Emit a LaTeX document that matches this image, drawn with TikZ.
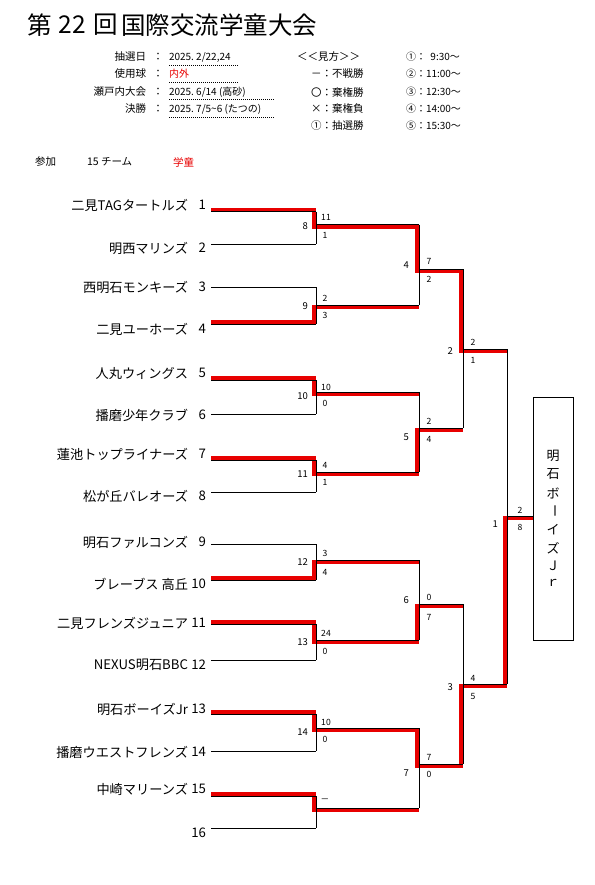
\documentclass[tikz,border=0pt]{standalone}
\usepackage{fontspec}
\setmainfont{Noto Sans CJK JP}
\definecolor{winred}{RGB}{232,0,0}
\newcommand\rj[1]{([shift={(-2,2)}]#1)}
\begin{document}
\begin{tikzpicture}[x=1pt,y=-1pt,
  every node/.style={inner sep=0pt,outer sep=0pt},
  bk/.style={line width=1pt,black},
  win/.style={line width=4.2pt,winred,line join=miter,line cap=butt},
  team/.style={font=\fontsize{13.2}{15}\selectfont,anchor=east},
  mno/.style={font=\fontsize{9.5}{11}\selectfont,anchor=east},
  sc/.style={font=\fontsize{8.6}{10}\selectfont},
  hd/.style={font=\fontsize{10.5}{12}\selectfont},
  hv/.style={font=\fontsize{10}{12}\selectfont,anchor=west},
  dl/.style={line width=0.8pt,dash pattern=on 1pt off 1pt},
  vt/.style={font=\fontsize{13}{14}\selectfont},
  ttl/.style={font=\fontsize{24.5}{26}\selectfont}]
\useasboundingbox (0,0) rectangle (594,885);
\fill[white] (0,0) rectangle (594,885);

% ---- title ----
\node[ttl] (ti1) at (40,25) {第};
\node[ttl] (ti2) at (72,25) {22};
\node[ttl] (ti3) at (106,25) {回};
\node[ttl,anchor=west] (ti4) at (121,25) {国際交流学童大会};

% ---- header info ----
\node[hd,anchor=east] (ha1) at (146,57) {抽選日};
\node[hd] (hc1) at (158,57) {：};
\node[hv] (hb1) at (169,57) {2025.~2/22,24};
\draw[dl] (169,65) -- (238,65);
\node[hd,anchor=east] (ha2) at (146,74) {使用球};
\node[hd] (hc2) at (158,74) {：};
\node[hv,text=winred] (hb2) at (169,74) {内外};
\draw[dl] (169,82) -- (238,82);
\node[hd,anchor=east] (ha3) at (146,92) {瀬戸内大会};
\node[hd] (hc3) at (158,92) {：};
\node[hv] (hb3) at (169,92) {2025.~6/14~(高砂)};
\draw[dl] (169,99) -- (275,99);
\node[hd,anchor=east] (ha4) at (146,109) {決勝};
\node[hd] (hc4) at (158,109) {：};
\node[hv] (hb4) at (169,109) {2025.~7/5\textasciitilde6~(たつの)};
\draw[dl] (169,117) -- (275,117);

\node[hd,anchor=west] (k0) at (297,57) {＜＜見方＞＞};
\node[hd,anchor=west] (k1) at (311,74) {－：不戦勝};
\node[hd,anchor=west] (k2) at (311,92) {〇：棄権勝};
\node[hd,anchor=west] (k3) at (311,109) {×：棄権負};
\node[hd,anchor=west] (k4) at (311,126) {①：抽選勝};

\node[hv] (r1) at (406,57) {①：~~9:30～};
\node[hv] (r2) at (406,74) {②：11:00～};
\node[hv] (r3) at (406,92) {③：12:30～};
\node[hv] (r4) at (406,109) {④：14:00～};
\node[hv] (r5) at (406,126) {⑤：15:30～};

\node[hd,anchor=west] (p1) at (35,162) {参加};
\node[hd,anchor=west] (p2) at (87,162) {15~チーム};
\node[hd,anchor=west,text=winred] (p3) at (173,162) {学童};

% ---- coordinates ----
\foreach \i/\y in {1/212,2/244,3/287,4/324,5/380,6/414,7/460,8/492,9/544,10/580,11/624,12/660,13/714,14/751,15/796,16/828}{
  \coordinate (ts\i) at (211,\y);
  \coordinate (te\i) at (316,\y);
}
\foreach \m/\y in {8/225,9/305,10/392,11/472,12/560,13/640,14/728,15/808}{
  \coordinate (m\m) at (316,\y);
  \coordinate (me\m) at (419,\y);
}
\foreach \m/\y in {4/269,5/428,6/604,7/764}{
  \coordinate (m\m) at (419,\y);
  \coordinate (me\m) at (463,\y);
}
\foreach \m/\y in {2/349,3/684}{
  \coordinate (m\m) at (463,\y);
  \coordinate (me\m) at (507,\y);
}
\coordinate (m1) at (507,516);
\node[draw,line width=1pt,minimum width=40pt,minimum height=243pt] (champ) at (553,518.5) {};
\coordinate (me1) at (m1 -| champ.west);

% ---- winner paths ----
\draw[win] ([shift={(0,-2)}]ts1) -| \rj{m8} -| \rj{m4} -| \rj{m2} -- ([shift={(0,2)}]me2);
\draw[win] ([shift={(0,-2)}]ts4) -| \rj{m9} -- ([shift={(0,2)}]me9);
\draw[win] ([shift={(0,-2)}]ts5) -| \rj{m10} -- ([shift={(0,2)}]me10);
\draw[win] ([shift={(0,-2)}]ts7) -| \rj{m11} -| \rj{m5} -- ([shift={(0,2)}]me5);
\draw[win] ([shift={(0,-2)}]ts10) -| \rj{m12} -- ([shift={(0,2)}]me12);
\draw[win] ([shift={(0,-2)}]ts11) -| \rj{m13} -| \rj{m6} -- ([shift={(0,2)}]me6);
\draw[win] ([shift={(0,-2)}]ts13) -| \rj{m14} -| \rj{m7} -| \rj{m3} -| \rj{m1} -- ([shift={(0,2)}]me1);
\draw[win] ([shift={(0,-2)}]ts15) -| \rj{m15} -- ([shift={(0,2)}]me15);

% ---- black bracket ----
\foreach \i in {1,...,16}{ \draw[bk] (ts\i) -- (te\i); }
\foreach \a/\b/\m in {1/2/8,3/4/9,5/6/10,7/8/11,9/10/12,11/12/13,13/14/14,15/16/15}{
  \draw[bk] (te\a) -- (te\b);
  \draw[bk] (m\m) -- (me\m);
}
\foreach \a/\b/\m in {8/9/4,10/11/5,12/13/6,14/15/7,4/5/2,6/7/3}{
  \draw[bk] (me\a) -- (me\b);
  \draw[bk] (m\m) -- (me\m);
}
\draw[bk] (me2) -- (me3);
\draw[bk] (m1) -- (me1);

% ---- team names ----
\node[team] (n1) at (188,205) {二見TAGタートルズ};
\node[team] (n2) at (188,248) {明西マリンズ};
\node[team] (n3) at (188,287) {西明石モンキーズ};
\node[team] (n4) at (188,329) {二見ユーホーズ};
\node[team] (n5) at (188,373) {人丸ウィングス};
\node[team] (n6) at (188,415) {播磨少年クラブ};
\node[team] (n7) at (188,454) {蓮池トップライナーズ};
\node[team] (n8) at (188,496) {松が丘バレオーズ};
\node[team] (n9) at (188,542) {明石ファルコンズ};
\node[team] (n10) at (188,584) {ブレーブス 高丘};
\node[team] (n11) at (188,623) {二見フレンズジュニア};
\node[team] (n12) at (188,665) {NEXUS明石BBC};
\node[team] (n13) at (188,709) {明石ボーイズJr};
\node[team] (n14) at (188,752) {播磨ウエストフレンズ};
\node[team] (n15) at (188,789) {中崎マリーンズ};
\foreach \i/\y in {1/205,2/248,3/287,4/329,5/373,6/415,7/454,8/496,9/542,10/584,11/623,12/665,13/709,14/752,15/789,16/833}{
  \node[team] (no\i) at (206,\y) {\i};
}

% ---- match numbers ----
\foreach \t/\x/\y in {8/308/226,9/308/306,10/308/396,11/308/474,12/308/562,13/308/642,14/308/732,4/409/265,5/409/437,6/409/600,7/409/773,2/453/351,3/453/687,1/498/524}{
  \node[mno] (g\t) at (\x,\y) {\t};
}

% ---- scores ----
\foreach \k/\s/\x/\y in {a/11/326/217,b/1/325/235,c/2/325/298,d/3/325/315,e/10/326/387,f/0/325/403,g/4/325/465,h/1/325/482,
  i/3/325/553,j/4/325/572,k/24/326/633,l/0/325/651,m/10/326/722,n/0/325/739,
  o/7/429/261,p/2/429/279,q/2/429/421,r/4/429/439,s/0/429/597,t/7/429/617,u/7/429/757,v/0/429/774,
  w/2/473/342,x/1/473/360,y/4/473/678,z/5/473/696,A/2/520/510,B/8/520/527}{
  \node[sc] (s\k) at (\x,\y) {\s};
}
\node[sc] (sC) at (325,801) {－};

% ---- champion ----
\node[vt] (c1) at (553,456) {明};
\node[vt] (c2) at (553,474.5) {石};
\node[vt] (c3) at (553,493) {ボ};
\node[vt] (c4) at (553,511) {\rotatebox{-90}{ー}};
\node[vt] (c5) at (553,530) {イ};
\node[vt] (c6) at (553,548) {ズ};
\node[vt] (c7) at (553,566) {Ｊ};
\node[vt] (c8) at (553,583) {ｒ};
\end{tikzpicture}
\end{document}
